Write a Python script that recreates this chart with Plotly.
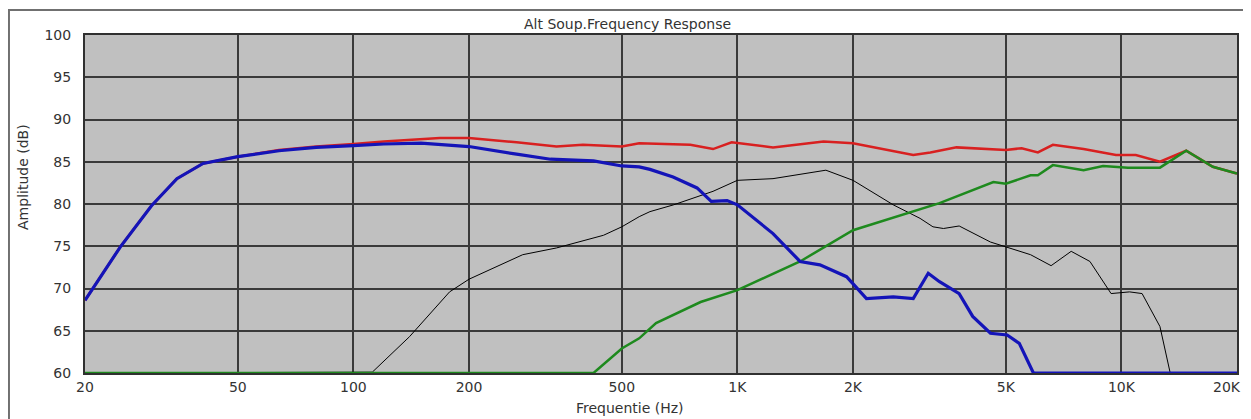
import plotly.graph_objects as go

# ---- data ----
red_f = [20, 24.7, 29.8, 34.7, 40.6, 50, 64, 80, 100, 120, 168, 200, 266, 338, 396, 500, 555, 754, 864, 966,
         1238, 1676, 2000, 2870, 3180, 3720, 5000, 5500, 6060, 6630, 7970, 9680, 10900, 12600, 14750, 17300, 20000]
red_db = [68.6, 74.9, 79.8, 83.0, 84.8, 85.6, 86.4, 86.8, 87.1, 87.4, 87.8, 87.8, 87.3, 86.8, 87.0, 86.8, 87.2, 87.0, 86.5, 87.3,
          86.7, 87.4, 87.2, 85.8, 86.1, 86.7, 86.4, 86.6, 86.1, 87.0, 86.5, 85.8, 85.8, 85.0, 86.3, 84.4, 83.6]

black_f = [20, 112, 140, 178, 200, 241, 276, 338, 448, 500, 555, 592, 682, 864, 1000, 1238, 1700, 2000, 2546, 2990,
           3230, 3440, 3780, 4560, 5000, 5800, 6560, 7400, 8280, 9400, 10500, 11320, 12600, 13400, 20000]
black_db = [60, 60.1, 64.3, 69.6, 71.1, 72.8, 74.0, 74.8, 76.3, 77.3, 78.5, 79.1, 79.9, 81.5, 82.8, 83.0, 84.0, 82.8, 79.9, 78.3,
            77.3, 77.1, 77.4, 75.5, 74.9, 74.0, 72.7, 74.4, 73.2, 69.4, 69.6, 69.4, 65.5, 60.0, 60.0]

green_f = [20, 422, 500, 555, 614, 802, 1000, 1456, 2000, 3360, 4640, 5000, 5800, 6060, 6630, 7970, 8960, 10400,
           12600, 14750, 17300, 20000]
green_db = [60, 60, 62.9, 64.1, 65.9, 68.4, 69.8, 73.2, 76.9, 80.1, 82.6, 82.4, 83.4, 83.4, 84.6, 84.0, 84.5, 84.3,
            84.3, 86.3, 84.4, 83.6]

blue_f = [20, 24.7, 29.8, 34.7, 40.6, 50, 64, 80, 100, 120, 150, 200, 266, 326, 422, 500, 555, 592, 680, 785, 855, 940,
          1000, 1238, 1456, 1640, 1924, 2168, 2546, 2870, 3140, 3360, 3780, 4100, 4560, 5040, 5420, 5900, 20000]
blue_db = [68.6, 74.9, 79.8, 83.0, 84.8, 85.6, 86.3, 86.7, 86.9, 87.1, 87.2, 86.8, 85.9, 85.3, 85.1, 84.5, 84.4, 84.1,
           83.2, 81.9, 80.3, 80.4, 79.9, 76.5, 73.2, 72.8, 71.4, 68.8, 69.0, 68.8, 71.8, 70.8, 69.4, 66.7, 64.7, 64.5,
           63.5, 60.0, 60.0]

x_tickvals = [20, 50, 100, 200, 500, 1000, 2000, 5000, 10000, 20000]
x_ticktext = ["20", "50", "100", "200", "500", "1K", "2K", "5K", "10K", "20K"]
y_tickvals = [60, 65, 70, 75, 80, 85, 90, 95, 100]

FONT = "DejaVu Sans"
TXT = "#333333"
FS = 14

fig = go.Figure()
fig.add_trace(go.Scatter(x=red_f, y=red_db, mode="lines", line=dict(color="#d82020", width=2.5), showlegend=False))
fig.add_trace(go.Scatter(x=black_f, y=black_db, mode="lines", line=dict(color="#000000", width=1), showlegend=False))
fig.add_trace(go.Scatter(x=green_f, y=green_db, mode="lines", line=dict(color="#1e8a1e", width=2.5), showlegend=False))
fig.add_trace(go.Scatter(x=blue_f, y=blue_db, mode="lines", line=dict(color="#1414b8", width=3.2), showlegend=False))

# last tick label would be clipped at the page edge; draw it as a right-anchored annotation instead
axis_ticktext = x_ticktext[:-1] + [""]

# the page body has an 8px margin, so the figure is 8px smaller and margins are shifted
fig.update_layout(
    width=1243, height=411,
    margin=dict(l=77, r=14, t=27, b=46, autoexpand=False),
    paper_bgcolor="white",
    plot_bgcolor="#c0c0c0",
    font=dict(family=FONT, size=FS, color=TXT),
    xaxis=dict(type="log", range=[1.30103, 4.30103], tickvals=x_tickvals, ticktext=axis_ticktext,
               showgrid=True, gridcolor="#3a3a3a", gridwidth=1.5, zeroline=False,
               showline=True, linecolor="#303030", linewidth=2, mirror=True, ticks="",
               automargin=False,
               tickfont=dict(family=FONT, size=FS, color=TXT)),
    yaxis=dict(range=[60, 100], tickvals=y_tickvals, showgrid=True, gridcolor="#3a3a3a", gridwidth=1.5,
               zeroline=False, showline=True, linecolor="#303030", linewidth=2, mirror=True, ticks="",
               automargin=False,
               ticklabelstandoff=9, tickfont=dict(family=FONT, size=FS, color=TXT)),
    annotations=[
        dict(text="Alt Soup.Frequency Response", x=0.471, y=1.0, xref="paper", yref="paper",
             xanchor="center", yanchor="bottom", yshift=1, showarrow=False, font=dict(family=FONT, size=FS, color=TXT)),
        dict(text="Frequentie (Hz)", x=0.473, y=0, xref="paper", yref="paper",
             xanchor="center", yanchor="middle", yshift=-35, showarrow=False, font=dict(family=FONT, size=FS, color=TXT)),
        dict(text="Amplitude (dB)", x=0, y=0.58, xref="paper", yref="paper", textangle=-90,
             xanchor="center", yanchor="middle", xshift=-62, showarrow=False, font=dict(family=FONT, size=FS, color=TXT)),
        dict(text=x_ticktext[-1], x=1, y=0, xref="paper", yref="paper",
             xanchor="right", yanchor="middle", xshift=6, yshift=-14, showarrow=False,
             font=dict(family=FONT, size=FS, color=TXT)),
    ],
    shapes=[
        dict(type="rect", xref="paper", yref="paper", x0=-0.0660, x1=1.03, y0=-0.3, y1=1.074,
             line=dict(color="#707070", width=2), fillcolor="rgba(0,0,0,0)", layer="below"),
    ],
)

fig.write_html("out.html")
